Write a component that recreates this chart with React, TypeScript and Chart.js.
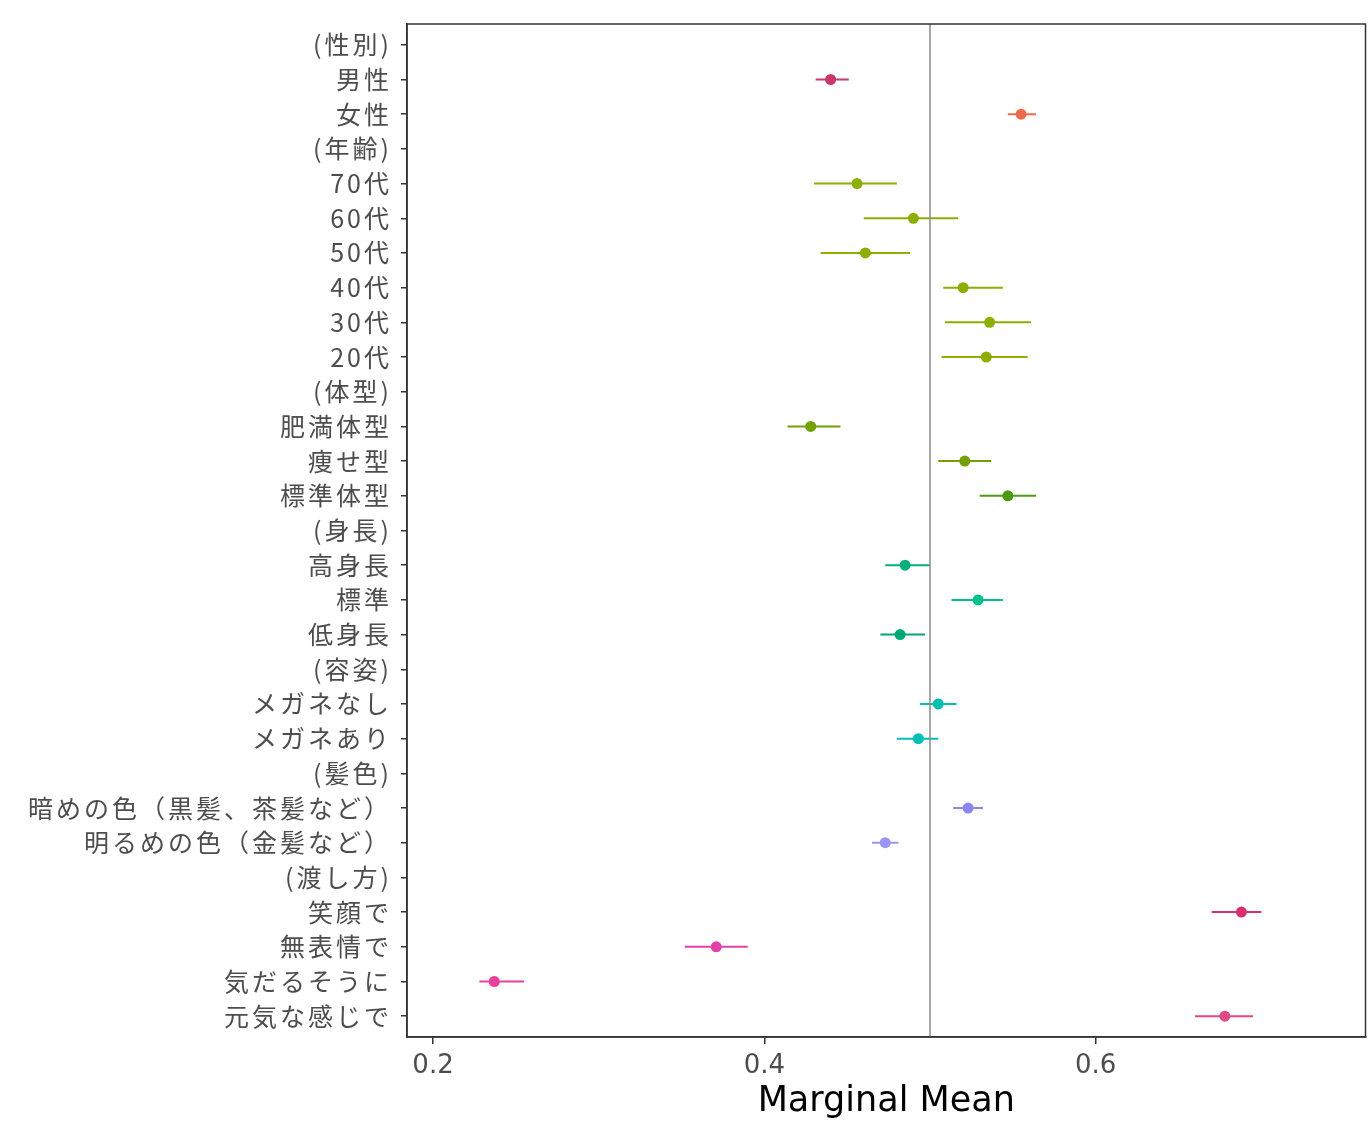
import React, { useEffect, useRef } from "react";
import { Chart, registerables } from "chart.js";

Chart.register(...registerables);

const labels = [
  "(性別)", "男性", "女性",
  "(年齢)", "70代", "60代", "50代", "40代", "30代", "20代",
  "(体型)", "肥満体型", "痩せ型", "標準体型",
  "(身長)", "高身長", "標準", "低身長",
  "(容姿)", "メガネなし", "メガネあり",
  "(髪色)", "暗めの色（黒髪、茶髪など）", "明るめの色（金髪など）",
  "(渡し方)", "笑顔で", "無表情で", "気だるそうに", "元気な感じで",
];

// null = header row (no estimate)
const estimates = [
  null, 0.440, 0.555,
  null, 0.456, 0.490, 0.461, 0.520, 0.536, 0.534,
  null, 0.428, 0.521, 0.547,
  null, 0.485, 0.529, 0.482,
  null, 0.505, 0.493,
  null, 0.523, 0.473,
  null, 0.688, 0.371, 0.237, 0.678,
];
const lower = [
  null, 0.431, 0.547,
  null, 0.430, 0.460, 0.434, 0.508, 0.509, 0.507,
  null, 0.414, 0.505, 0.530,
  null, 0.473, 0.513, 0.470,
  null, 0.494, 0.480,
  null, 0.514, 0.465,
  null, 0.670, 0.352, 0.228, 0.660,
];
const upper = [
  null, 0.451, 0.564,
  null, 0.480, 0.517, 0.488, 0.544, 0.561, 0.559,
  null, 0.446, 0.537, 0.564,
  null, 0.500, 0.544, 0.497,
  null, 0.516, 0.505,
  null, 0.532, 0.481,
  null, 0.700, 0.390, 0.255, 0.695,
];
const rowColors = [
  null, "#C8386A", "#EE6A4C",
  null, "#8CAE00", "#8CAE00", "#8CAE00", "#8CAE00", "#8CAE00", "#8CAE00",
  null, "#72A000", "#72A000", "#4E9A10",
  null, "#00B07A", "#00C08A", "#00A878",
  null, "#00BFB0", "#00BFB5",
  null, "#8A86F0", "#9A96F5",
  null, "#D8306E", "#E040A8", "#E8409A", "#E04A86",
];
const xTicks = [0.2, 0.4, 0.6];
const refLine = 0.5;

export default function App() {
  const ref = useRef<HTMLCanvasElement | null>(null);
  useEffect(() => {
    const canvas = ref.current;
    if (!canvas) return;
    const n = labels.length;
    const datasets: any[] = [];
    datasets.push({
      type: "scatter",
      data: [{ x: refLine, y: -0.6 }, { x: refLine, y: n - 1 + 0.6 }],
      showLine: true,
      borderColor: "#8c8c8c",
      borderWidth: 1.5,
      pointRadius: 0,
    });
    labels.forEach((_, i) => {
      const lo = lower[i];
      const hi = upper[i];
      if (lo == null || hi == null) return;
      datasets.push({
        type: "scatter",
        data: [{ x: lo, y: i }, { x: hi, y: i }],
        showLine: true,
        borderColor: rowColors[i],
        borderWidth: 2,
        pointRadius: 0,
      });
    });
    const pts: any[] = [];
    const cols: string[] = [];
    labels.forEach((_, i) => {
      const e = estimates[i];
      if (e == null) return;
      pts.push({ x: e, y: i });
      cols.push(rowColors[i] as string);
    });
    datasets.push({
      type: "scatter",
      data: pts,
      pointRadius: 5.5,
      pointBackgroundColor: cols,
      pointBorderColor: cols,
      pointBorderWidth: 0,
    });

    // x axis drawn before datasets with normal spacing; y-axis labels (ticks.z: 1)
    // drawn after datasets with wide letter spacing
    const spacing = {
      id: "spacing",
      beforeDraw(chart: any) {
        chart.ctx.letterSpacing = "0px";
      },
      afterDatasetsDraw(chart: any) {
        chart.ctx.letterSpacing = "3px";
      },
      afterDraw(chart: any) {
        chart.ctx.letterSpacing = "0px";
      },
    };

    const frame = {
      id: "frame",
      afterDraw(chart: any) {
        const { ctx, chartArea } = chart;
        ctx.save();
        ctx.strokeStyle = "#333333";
        ctx.lineWidth = 1.5;
        ctx.strokeRect(chartArea.left, chartArea.top, chartArea.right - chartArea.left, chartArea.bottom - chartArea.top);
        ctx.restore();
      },
    };

    const chart = new Chart(canvas, {
      type: "scatter",
      data: { datasets },
      plugins: [spacing, frame],
      options: {
        responsive: false,
        animation: false,
        events: [],
        layout: { padding: { top: 22, right: 5, left: 0, bottom: 0 } },
        plugins: { legend: { display: false }, tooltip: { enabled: false } },
        scales: {
          x: {
            type: "linear",
            min: 0.1843,
            max: 0.7629,
            afterBuildTicks: (s: any) => {
              s.ticks = xTicks.map((v) => ({ value: v }));
            },
            afterFit: (s: any) => {
              s.height = 86;
            },
            ticks: {
              callback: (v: any) => String(v),
              color: "#4d4d4d",
              font: { family: "'DejaVu Sans', 'Noto Sans CJK JP'", size: 26 },
              padding: 7,
              maxRotation: 0,
            },
            grid: { drawOnChartArea: false, drawTicks: true, tickLength: 7, color: "#333333", lineWidth: 1.5 },
            border: { display: true, color: "#333333", width: 1.5 },
            title: {
              display: true,
              text: "Marginal Mean",
              color: "#000000",
              font: { family: "'DejaVu Sans', 'Noto Sans CJK JP'", size: 35 },
              padding: { top: 0, bottom: 0 },
            },
          },
          y: {
            type: "linear",
            reverse: true,
            min: -0.6,
            max: n - 1 + 0.6,
            afterBuildTicks: (s: any) => {
              s.ticks = labels.map((_, i) => ({ value: i }));
            },
            afterFit: (s: any) => {
              s.width = 407;
            },
            ticks: {
              z: 1,
              autoSkip: false,
              callback: (v: any) => labels[Math.round(Number(v))] ?? "",
              color: "#4d4d4d",
              font: { family: "'Noto Sans CJK JP', 'DejaVu Sans'", size: 25 },
              padding: 9,
            },
            grid: { drawOnChartArea: false, drawTicks: true, tickLength: 6, color: "#333333", lineWidth: 1.5 },
            border: { display: true, color: "#333333", width: 1.5 },
          },
        },
      },
    } as any);
    return () => chart.destroy();
  }, []);
  return (
    <div style={{ position: "absolute", left: 0, top: 0, width: 1371, height: 1123, background: "#fff" }}>
      <canvas ref={ref} width={1371} height={1123} style={{ width: 1371, height: 1123 }} />
    </div>
  );
}
